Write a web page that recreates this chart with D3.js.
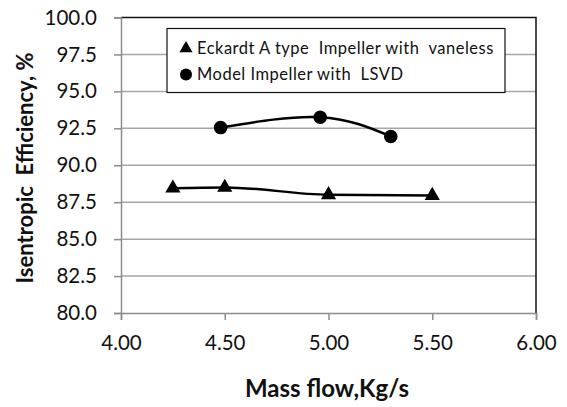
<!DOCTYPE html>
<html>
<head>
<meta charset="utf-8">
<script src="https://cdn.jsdelivr.net/npm/d3@7"></script>
<style>
  body { margin: 0; background: #fff; }
  text { font-family: Lato, "Open Sans", sans-serif; fill: #111; white-space: pre; }
</style>
</head>
<body>
<div id="chart"></div>
<script>
// Data
const eckardtFlow = [4.25, 4.50, 5.00, 5.50];
const eckardtEff = [88.45, 88.5, 88.0, 87.95];
const modelFlow = [4.48, 4.96, 5.30];
const modelEff = [92.55, 93.25, 91.95];
const xTicks = [4.0, 4.5, 5.0, 5.5, 6.0];
const yTicks = [80, 82.5, 85, 87.5, 90, 92.5, 95, 97.5, 100];
const legendLabels = ["Eckardt A type  Impeller with  vaneless", "Model Impeller with  LSVD"];

const W = 567, H = 407;
const margin = { top: 17.5, right: 31, bottom: 94, left: 121 };
const width = W - margin.left - margin.right,
      height = H - margin.top - margin.bottom;

const svg = d3.select("#chart").append("svg")
    .attr("width", W).attr("height", H);
const g = svg.append("g")
    .attr("transform", "translate(" + margin.left + "," + margin.top + ")");

const x = d3.scaleLinear().domain([4, 6]).range([0, width]);
const y = d3.scaleLinear().domain([80, 100]).range([height, 0]);

// gridlines
g.selectAll(".grid").data(yTicks.slice(1, -1)).enter().append("line")
    .attr("x1", 0).attr("x2", width)
    .attr("y1", d => y(d)).attr("y2", d => y(d))
    .attr("stroke", "#a6a6a6").attr("stroke-width", 1.5);

// top and right frame
g.append("path")
    .attr("d", `M0,${y(100)}H${width}V${height}`)
    .attr("fill", "none").attr("stroke", "#111").attr("stroke-width", 1.5);

// y axis
const yAxis = g.append("g")
    .call(d3.axisLeft(y).tickValues(yTicks).tickFormat(d3.format(".1f")).tickSizeOuter(0).tickSize(7).tickPadding(17));
yAxis.select(".domain").attr("stroke", "#8c8c8c").attr("stroke-width", 1.5);
yAxis.selectAll(".tick line").attr("stroke", "#8c8c8c").attr("stroke-width", 1.5);
yAxis.selectAll("text").style("font-size", "20.5px").attr("fill", "#111");

// x axis
const xAxis = g.append("g")
    .attr("transform", "translate(0," + height + ")")
    .call(d3.axisBottom(x).tickValues(xTicks).tickFormat(d3.format(".2f")).tickSizeOuter(0).tickSize(7).tickPadding(15));
xAxis.select(".domain").attr("stroke", "#8c8c8c").attr("stroke-width", 1.5);
xAxis.selectAll(".tick line").attr("stroke", "#8c8c8c").attr("stroke-width", 1.5);
xAxis.selectAll("text").style("font-size", "20.5px").attr("fill", "#111");

// axis titles
svg.append("text")
    .attr("x", 327).attr("y", 397)
    .attr("text-anchor", "middle")
    .style("font-size", "24px").style("font-weight", "bold")
    .text("Mass flow,Kg/s");

svg.append("text")
    .attr("transform", `translate(33,168) rotate(-90)`)
    .attr("text-anchor", "middle")
    .style("font-size", "22px").style("font-weight", "bold")
    .text("Isentropic  Efficiency, %");

// series
const eckardt = eckardtFlow.map((f, i) => ({ f, e: eckardtEff[i] }));
const model = modelFlow.map((f, i) => ({ f, e: modelEff[i] }));

const line = d3.line().x(d => x(d.f)).y(d => y(d.e));

g.append("path").datum(eckardt)
    .attr("d", line.curve(d3.curveMonotoneX))
    .attr("fill", "none").attr("stroke", "#000").attr("stroke-width", 2.5);
g.append("path").datum(model)
    .attr("d", line.curve(d3.curveNatural))
    .attr("fill", "none").attr("stroke", "#000").attr("stroke-width", 2.5);

const tri = d3.symbol().type(d3.symbolTriangle).size(100);
g.selectAll(".tri").data(eckardt).enter().append("path")
    .attr("transform", d => `translate(${x(d.f)},${y(d.e)})`)
    .attr("d", tri).attr("fill", "#000");

g.selectAll(".dot").data(model).enter().append("circle")
    .attr("cx", d => x(d.f)).attr("cy", d => y(d.e))
    .attr("r", 6.8).attr("fill", "#000");

// legend
const lg = svg.append("g").attr("transform", "translate(167,28.5)");
lg.append("rect").attr("width", 338).attr("height", 64)
    .attr("fill", "#fff").attr("stroke", "#111").attr("stroke-width", 1.2);
lg.append("path").attr("transform", "translate(19,20)")
    .attr("d", d3.symbol().type(d3.symbolTriangle).size(75)).attr("fill", "#000");
lg.append("circle").attr("cx", 19).attr("cy", 46).attr("r", 6).attr("fill", "#000");
lg.selectAll(".lt").data(legendLabels).enter().append("text")
    .attr("x", 30).attr("y", (d, i) => 20 + i * 26)
    .attr("dy", "0.35em")
    .style("font-size", "16.5px").style("letter-spacing", "0.5px")
    .text(d => d);
</script>
</body>
</html>
